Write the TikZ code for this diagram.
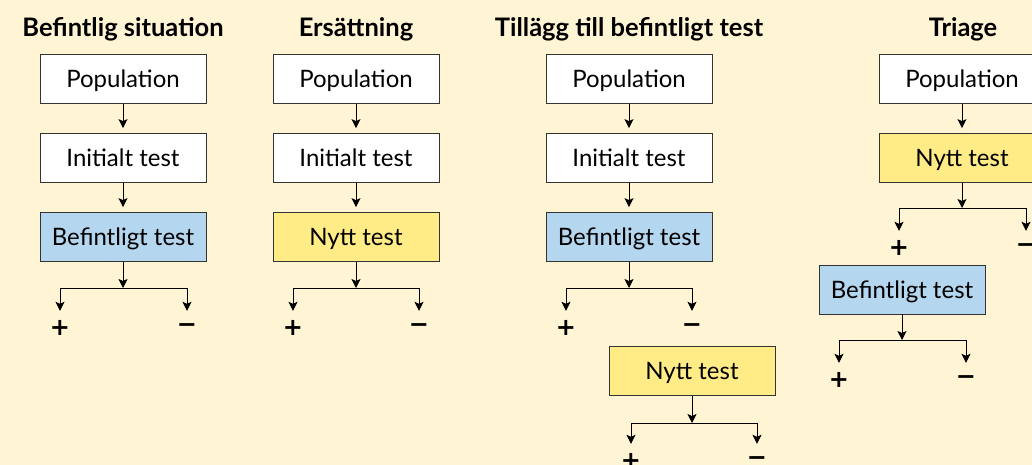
\documentclass[tikz,border=0pt]{standalone}
\usepackage{fontspec}
\setmainfont{Lato}
\newfontfamily\signfont{DejaVu Sans}
\usetikzlibrary{arrows.meta}

\definecolor{bgcream}{HTML}{FFF5D4}
\definecolor{oldblue}{HTML}{B4D7EF}
\definecolor{newyellow}{HTML}{FFEC87}

\tikzset{
	box/.style = {draw = black!80, line width = 0.8pt, fill = white, minimum width = 166pt, minimum height = 49pt, inner sep = 0pt, text height = 19pt, text depth = 2pt, font = \fontsize{24}{28}\selectfont},
	oldtest/.style = {box, fill = oldblue},
	newtest/.style = {box, fill = newyellow},
	heading/.style = {anchor = base, font = \fontsize{25.5}{28}\selectfont\bfseries},
	sign/.style = {minimum height = 34pt, inner sep = 0pt, font = \fontsize{24}{26}\selectfont\signfont\bfseries},
	arr/.style = {-{Stealth[length = 9pt, width = 9pt, inset = 2pt]}, line width = 0.9pt}
}

\begin{document}
\begin{tikzpicture}[x = 1pt, y = -1pt]
	\fill [bgcream] (0,0) rectangle (1032,465);
	\useasboundingbox (0,0) rectangle (1032,465);
	% titles
	\node [heading] (head1) at (123,37) {Befintlig situation};
	\node [heading] (head2) at (356,37) {Ersättning};
	\node [heading] (head3) at (629,37) {Tillägg till befintligt test};
	\node [heading] (head4) at (963,37) {Triage};
	% boxes
	\foreach \c/\x in {1/123, 2/356, 3/629, 4/962}
	\node [box] (pop\c) at (\x,79) {Population};
	\foreach \c/\x in {1/123, 2/356, 3/629}
	\node [box] (init\c) at (\x,158) {Initialt test};
	\node [oldtest] (old1) at (123,237) {Befintligt test};
	\node [newtest] (new2) at (356,237) {Nytt test};
	\node [oldtest] (old3) at (629,237) {Befintligt test};
	\node [newtest] (new3) at (692,371) {Nytt test};
	\node [newtest] (new4) at (962,158) {Nytt test};
	\node [oldtest] (old4) at (902,289.5) {Befintligt test};
	% arrows between boxes
	\foreach \a/\b in {pop1/init1, init1/old1, pop2/init2, init2/new2, pop3/init3, init3/old3, pop4/new4}
	\draw [arr, shorten > = 5pt] (\a) -- (\b);
	% test outcome, + and -
	\foreach \t/\s/\y/\p/\m [count = \i] in {old1/288/328/60/187, new2/288/328/293/419, old3/288/328/566/692, new3/423/461/631/757, new4/208/248/899/1026, old4/340/380/839/966} {
		\coordinate (split\i) at (\t.south |- 0,\s);
		\node [sign] (plus\i) at (\p,\y) {+};
		\node [sign] (minus\i) at (\m,\y) {−};
		\draw [arr] (\t) -- (split\i);
		\draw [arr] (split\i) -| (plus\i);
		\draw [arr] (split\i) -| (minus\i);
	}
\end{tikzpicture}
\end{document}
